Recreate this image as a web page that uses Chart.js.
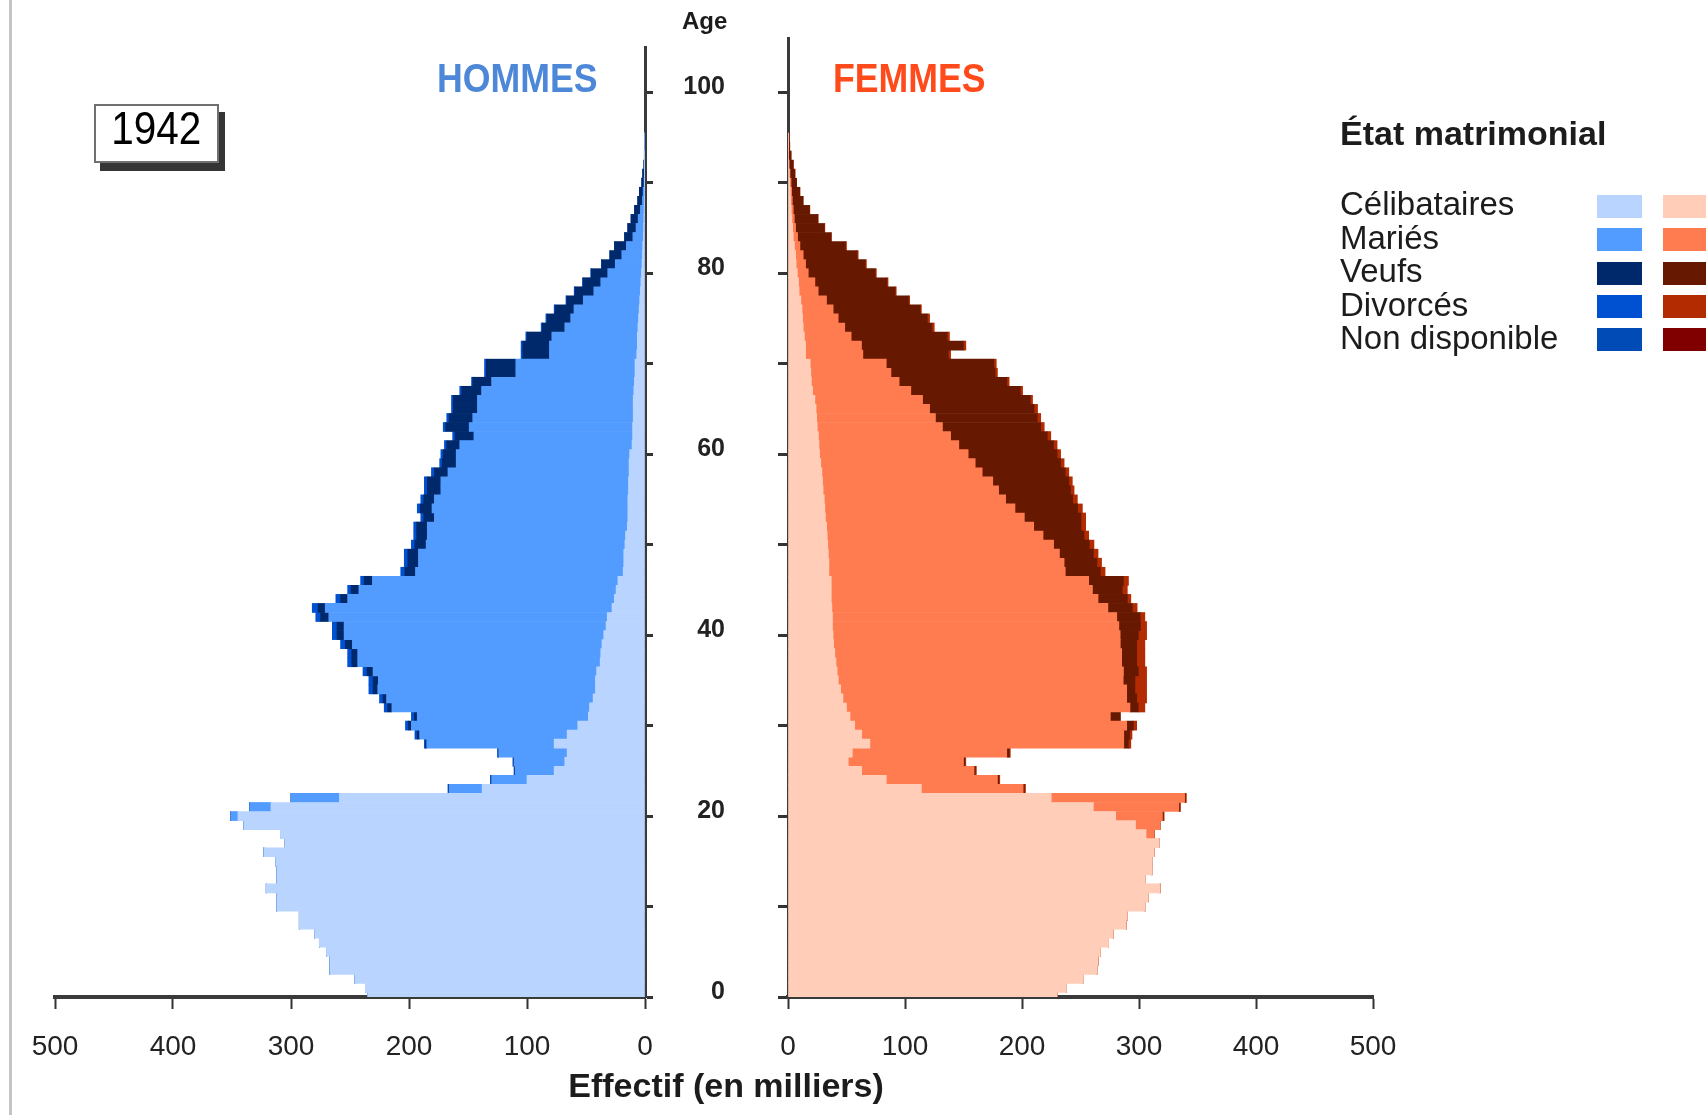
<!DOCTYPE html>
<html lang="fr">
<head>
<meta charset="utf-8">
<title>Pyramide des âges 1942</title>
<script src="https://cdn.jsdelivr.net/npm/chart.js@4.4.1/dist/chart.umd.min.js"></script>
<style>
  html, body { margin: 0; padding: 0; background: #fff; }
  #page { position: relative; width: 1706px; height: 1115px; overflow: hidden;
          font-family: "Liberation Sans", Arial, sans-serif; color: #1c1c1c; }
  #page canvas { position: absolute; left: 0; top: 0; }
  #bord { position: absolute; left: 9px; top: 0; width: 3px; height: 1115px; background: #c4c4c4; }
  .txt { position: absolute; white-space: nowrap; line-height: 1; }
  #annee { position: absolute; left: 94px; top: 104px; width: 121px; height: 55px;
           border: 2px solid #707070; box-shadow: 6px 8px 0 #353535; background: #fff;
           text-align: center; }
  #annee span { display: inline-block; font-size: 46px; line-height: 45px; transform: scaleX(0.88); color: #000; }
  #tHommes, #tFemmes { top: 58px; font-size: 41px; font-weight: bold; transform: scaleX(0.87); transform-origin: left top; }
  #tHommes { left: 437px; color: #4d88d8; }
  #tFemmes { left: 833px; color: #ff4b1c; }
  #tAge { left: 682px; top: 9px; font-size: 24px; font-weight: bold; }
  #tEffectif { left: 426px; width: 600px; top: 1068px; font-size: 34px; font-weight: bold; text-align: center; }
  #legTitre { left: 1340px; top: 116px; font-size: 34px; font-weight: bold; }
  .legTxt { position: absolute; left: 1340px; font-size: 33px; line-height: 33.5px; white-space: nowrap; }
  .legBox { position: absolute; width: 45px; height: 23px; }
</style>
</head>
<body>
<div id="page">
  <div id="bord"></div>
  <canvas id="hommes" width="1706" height="1115"></canvas>
  <canvas id="femmes" width="1706" height="1115"></canvas>
  <div id="annee"><span>1942</span></div>
  <div class="txt" id="tHommes">HOMMES</div>
  <div class="txt" id="tFemmes">FEMMES</div>
  <div class="txt" id="tAge">Age</div>
  <div class="txt" id="tEffectif">Effectif (en milliers)</div>
  <div class="txt" id="legTitre">État matrimonial</div>
  <div id="legende"></div>
</div>
<script>
// Âges (années révolues)
const ages = [
  0, 1, 2, 3, 4, 5, 6, 7, 8, 9, 10, 11, 12, 13, 14, 15, 16, 17, 18, 19,
  20, 21, 22, 23, 24, 25, 26, 27, 28, 29, 30, 31, 32, 33, 34, 35, 36, 37, 38, 39,
  40, 41, 42, 43, 44, 45, 46, 47, 48, 49, 50, 51, 52, 53, 54, 55, 56, 57, 58, 59,
  60, 61, 62, 63, 64, 65, 66, 67, 68, 69, 70, 71, 72, 73, 74, 75, 76, 77, 78, 79,
  80, 81, 82, 83, 84, 85, 86, 87, 88, 89, 90, 91, 92, 93, 94, 95
];

const statuts = ["Célibataires", "Mariés", "Veufs", "Divorcés", "Non disponible"];
const couleursH = ["#b9d5ff", "#529bff", "#00296b", "#0050d2", "#004bb5"];
const couleursF = ["#ffcdb8", "#ff7b50", "#661800", "#b32b00", "#800000"];

const axeEffectif = [0, 100, 200, 300, 400, 500];
const axeAge = [0, 10, 20, 30, 40, 50, 60, 70, 80, 90, 100];

// Hommes (milliers)
const hCelib = [
  235, 237, 246, 267, 267, 270, 276, 280, 293, 293,
  312, 312, 321, 312, 312, 313, 323, 305, 309, 340,
  345, 317, 259, 138, 100, 77, 68, 66, 77, 66,
  57, 48, 47, 44, 42, 42, 41, 38, 37.5, 36.5,
  35, 33, 32, 28, 26, 24.5, 23, 18.5, 18, 18,
  17, 16.5, 15, 14.5, 14.5, 14.5, 14, 14, 13.5, 13.5,
  13, 11, 10.5, 10.5, 10, 10, 10, 9.5, 9, 8.5,
  8.5, 7, 6.5, 6.5, 6, 5.5, 5, 4.5, 4, 3.5,
  3, 2.6, 2.2, 2, 1.4, 1.2, 1, 0.8, 0.6, 0.4,
  0.3, 0.2, 0.1, 0.1, 0, 0
];
const hMaries = [
  0, 0, 0, 0, 0, 0, 0, 0, 0, 0,
  0, 0, 0, 0, 0, 0, 0, 0, 0, 0,
  6, 18, 41, 28, 30, 33, 43, 58, 108, 125,
  141, 145, 167.5, 175, 184.5, 184, 189.5, 205.5, 206, 211.5,
  220, 222, 236, 243, 226, 218, 208, 176, 174, 174,
  168.5, 168, 169.5, 164, 166, 164, 159, 159, 153.5, 146.5,
  147, 146, 134.5, 138.5, 136, 132, 132, 129, 121, 101,
  101, 74, 74.5, 72.5, 62, 57.5, 55.2, 47.8, 39.4, 34,
  28.6, 22.6, 17.5, 13.8, 8.9, 6.4, 4.8, 3.1, 1.6, 1.2,
  0.5, 0.4, 0.2, 0.1, 0.1, 0.05
];
const hVeufs = [
  0, 0, 0, 0, 0, 0, 0, 0, 0, 0,
  0, 0, 0, 0, 0, 0, 0, 0, 0, 0,
  0, 0, 0, 0.5, 0.5, 0.5, 0.5, 0.5, 1, 2,
  2.5, 2.5, 3.5, 3, 4, 4.5, 5, 5, 5, 6,
  6, 6, 7, 6, 6, 6.5, 7, 9, 9, 9,
  9.5, 9, 9, 9, 10, 9, 11.5, 11.5, 11.5, 12,
  11, 11, 16, 20, 20, 20.5, 20.5, 17, 16, 25,
  25, 22.5, 22.5, 21, 19, 20, 16, 14, 16, 15,
  14, 11.5, 10, 10, 7, 7, 6, 5, 4, 3.2,
  2, 1.4, 0.7, 0.4, 0.2, 0.15
];
const hDivorces = [
  0, 0, 0, 0, 0, 0, 0, 0, 0, 0,
  0, 0, 0, 0, 0, 0, 0, 0, 0, 0,
  0, 0, 0, 0.5, 0.5, 0.5, 0.5, 0.5, 1, 2,
  2.5, 2.5, 3, 3, 3.5, 3.5, 3.5, 3.5, 3.5, 4,
  4, 4, 4, 5, 4, 3, 3, 3.5, 3, 3,
  3, 2.5, 2.5, 2.5, 2.5, 2.5, 2.5, 2.5, 2.5, 2,
  2, 2, 2, 2, 2, 1.5, 1.5, 1.5, 1, 1.5,
  1.5, 1.5, 1.5, 1, 1, 1, 0.8, 0.7, 0.6, 0.5,
  0.4, 0.3, 0.3, 0.2, 0.2, 0.1, 0.1, 0.1, 0, 0,
  0, 0, 0, 0, 0, 0
];

// Femmes (milliers)
const fCelib = [
  230, 238, 252, 264, 265, 267, 274, 278, 289, 290,
  305, 308, 318, 305, 311, 311, 313, 317, 306, 297,
  280, 261, 225, 114, 84, 63, 51.5, 55, 70, 63,
  57, 53, 50, 47, 45, 43, 42, 41, 40, 39,
  38.5, 38, 38, 37.5, 37, 37, 37, 35, 35, 34.5,
  34, 33.5, 33, 32, 31.5, 31, 30, 29.5, 29, 28,
  27, 26.5, 26, 25, 24.5, 24, 23, 21, 20, 19.5,
  19, 15, 15, 14, 13, 12.5, 12, 11, 9.5, 9,
  8, 7, 6.5, 5.5, 4.5, 4, 3.3, 2.8, 2.3, 2,
  1.5, 1.1, 0.7, 0.4, 0.2, 0.1
];
const fMariees = [
  0, 0, 0, 0, 0, 0, 0, 0, 0, 0,
  0, 0, 0, 0, 0, 0, 0, 0, 7, 21,
  40, 73, 114, 87, 95, 96, 98.5, 132, 217, 224,
  232.5, 222.5, 242.3, 242.5, 244.5, 243.5, 244.7, 244.2, 245.2, 245,
  245.4, 244.8, 243, 235.9, 228, 223.2, 220, 202, 201, 197.5,
  193, 184.5, 177, 170, 162.5, 155, 150, 145.5, 137, 132,
  127, 119.5, 113, 107, 101.5, 97, 92, 84, 75, 68.5,
  65, 49, 47.8, 40, 35.5, 30.4, 26.6, 21.9, 16.3, 14,
  9.3, 8, 6.5, 4.7, 3.7, 2.5, 2.1, 1.7, 1.4, 1.1,
  1.1, 0.6, 0.2, 0.1, 0.1, 0.05
];
const fVeuves = [
  0, 0, 0, 0, 0, 0, 0, 0, 0, 0,
  0, 0, 0, 0, 0, 0, 0, 0, 0, 0,
  0.5, 0.5, 0.5, 1, 1, 1, 1, 2, 4, 5,
  5.7, 8.5, 7, 8.5, 7, 10, 12.8, 12.8, 12.8, 14,
  15.6, 18.5, 20, 21, 25, 25.5, 29.8, 30, 28, 29,
  30.5, 35, 40.4, 48.4, 53.6, 57.3, 61.5, 65, 71, 73,
  76, 81, 82.6, 84, 87, 89.3, 92, 93.5, 92, 89,
  92, 73, 87.2, 82, 74.5, 76.1, 74.4, 70.1, 65.7, 61.5,
  57.2, 51, 46, 38.8, 28.5, 24.5, 20.1, 13.9, 9.1, 7,
  4.7, 4.2, 3.6, 2.1, 1.2, 0.65
];
const fDivorcees = [
  0, 0, 0, 0, 0, 0, 0, 0, 0, 0,
  0, 0, 0, 0, 0, 0, 0, 0, 0, 0,
  1, 1, 1, 1, 1, 1, 1, 1, 2, 2,
  2.8, 0, 5.7, 8.5, 10, 10, 7, 7, 7, 7,
  7, 5.2, 4, 4, 3, 4.3, 4.2, 4, 4, 4,
  4, 4, 4, 4, 4, 4, 3, 3, 3, 3,
  3, 3, 3, 3, 3, 3, 2, 2, 2, 2,
  2, 2, 2, 2, 2, 2, 1, 1, 1, 1,
  1, 1, 1, 1, 0.5, 0.5, 0.3, 0.3, 0.2, 0.1,
  0.1, 0.1, 0, 0, 0, 0
];

Chart.defaults.font.family = "'Liberation Sans', Arial, sans-serif";
Chart.defaults.color = "#1c1c1c";

function serie(valeurs) {
  return valeurs.map((v, i) => ({ x: v, y: ages[i] }));
}

function pyramide(id, series, couleurs, gauche) {
  return new Chart(document.getElementById(id), {
    type: "bar",
    data: {
      datasets: series.map((s, i) => ({
        label: statuts[i],
        data: serie(s),
        backgroundColor: couleurs[i],
        borderWidth: 0,
        barPercentage: 1,
        categoryPercentage: 1
      }))
    },
    options: {
      indexAxis: "y",
      responsive: false,
      animation: false,
      events: [],
      layout: {
        padding: gauche
          ? { left: 55, top: 47, right: 981, bottom: 0 }
          : { left: 768, top: 38, right: 333, bottom: 0 }
      },
      plugins: { legend: { display: false }, tooltip: { enabled: false } },
      scales: {
        x: {
          type: "linear",
          stacked: true,
          reverse: gauche,
          min: 0,
          max: 500,
          offset: false,
          z: 1,
          afterFit: (sc) => { sc.height = 118; },
          afterBuildTicks: (sc) => { sc.ticks = axeEffectif.map(v => ({ value: v })); },
          border: { display: true, color: "#3a3a3a", width: 4 },
          grid: { offset: false, drawOnChartArea: false, drawTicks: true, tickLength: 12, tickWidth: 2, tickColor: "#333" },
          ticks: { padding: 21, maxRotation: 0, autoSkip: false, color: "#222", font: { size: 28 } }
        },
        y: {
          type: "linear",
          stacked: true,
          position: gauche ? "right" : "left",
          min: 0,
          max: gauche ? 105 : 106,
          offset: false,
          z: 1,
          afterFit: (sc) => { sc.width = gauche ? 80 : 20; },
          afterBuildTicks: (sc) => { sc.ticks = axeAge.map(v => ({ value: v })); },
          border: { display: true, color: "#3a3a3a", width: 3 },
          grid: { offset: false, drawOnChartArea: false, drawTicks: true, tickLength: gauche ? 8 : 10, tickWidth: 3, tickColor: "#333" },
          ticks: {
            display: gauche,
            crossAlign: "far",
            padding: 28,
            labelOffset: -5,
            autoSkip: false,
            color: "#222",
            font: { size: 25, weight: "bold" },
            callback: (v) => (v % 20 === 0 ? String(v) : "")
          }
        }
      }
    }
  });
}

pyramide("hommes", [hCelib, hMaries, hVeufs, hDivorces], couleursH, true);
pyramide("femmes", [fCelib, fMariees, fVeuves, fDivorcees], couleursF, false);

// Légende : libellés à gauche, une case hommes et une case femmes par statut
const leg = document.getElementById("legende");
statuts.forEach((s, i) => {
  const t = document.createElement("div");
  t.className = "legTxt";
  t.style.top = (187 + 33.5 * i) + "px";
  t.textContent = s;
  leg.appendChild(t);
  [[1597, couleursH[i]], [1663, couleursF[i]]].forEach(([x, c]) => {
    const b = document.createElement("div");
    b.className = "legBox";
    b.style.left = x + "px";
    b.style.top = (195 + 33.3 * i) + "px";
    b.style.background = c;
    leg.appendChild(b);
  });
});
</script>
</body>
</html>
